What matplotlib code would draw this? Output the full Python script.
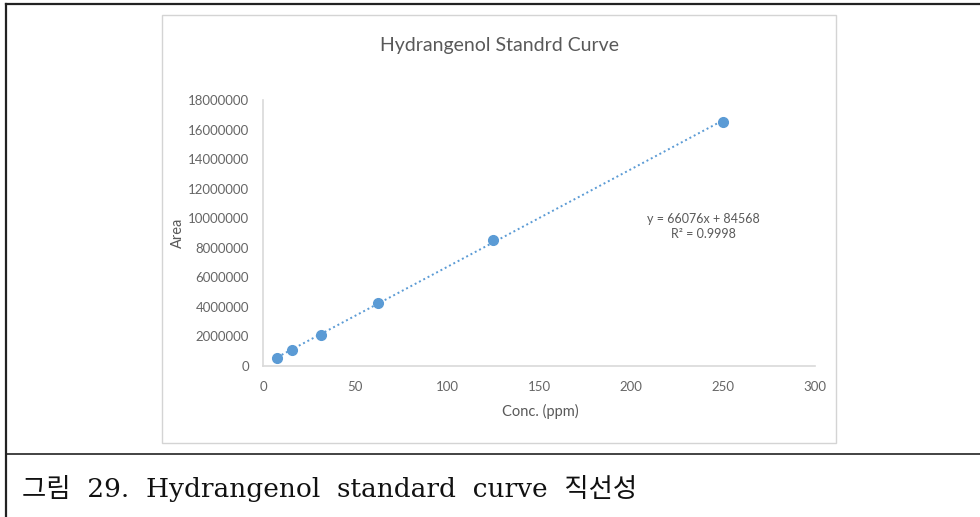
import numpy as np
import matplotlib
matplotlib.use("Agg")
import matplotlib.pyplot as plt
from matplotlib.lines import Line2D
from matplotlib.patches import Rectangle

conc = [7.8125, 15.625, 31.25, 62.5, 125, 250]
area = [560000, 1080000, 2110000, 4250000, 8520000, 16540000]
x_ticks = [0, 50, 100, 150, 200, 250, 300]
y_ticks = [0, 2000000, 4000000, 6000000, 8000000, 10000000, 12000000, 14000000, 16000000, 18000000]

title = "Hydrangenol Standrd Curve"
equation = "y = 66076x + 84568\nR² = 0.9998"
caption = "그림 29. Hydrangenol standard curve 직선성"

W, H = 980, 517
blue = "#5B9BD5"
gray_txt = "#595959"
axis_col = "#d9d9d9"

fig = plt.figure(figsize=(W / 100, H / 100), dpi=100)

def px(x, y):
    # Pixel -> Figure-Koordinaten
    return x / W, 1 - y / H

# Tabellenrahmen
fig.add_artist(Line2D([px(6, 0)[0], 1], [px(0, 4)[1]] * 2, color="#222222", lw=1.6))
fig.add_artist(Line2D([px(6, 0)[0]] * 2, [px(0, 4)[1], 0], color="#222222", lw=1.6))
fig.add_artist(Line2D([px(6, 0)[0], 1], [px(0, 454)[1]] * 2, color="#222222", lw=1.2))

# Rahmen des Diagrammbildes
x0, y0 = px(162, 443)
fig.add_artist(Rectangle((x0, y0), (836 - 162) / W, (443 - 15) / H, fill=False,
                         ec="#d4d4d4", lw=1.0, transform=fig.transFigure))

ax = fig.add_axes([263 / W, 1 - 366 / H, (815 - 263) / W, (366 - 100) / H])
ax.set_xlim(0, 300)
ax.set_ylim(0, 18000000)

# lineare Regression
coef = np.polyfit(conc, area, 1)
fit = np.poly1d(coef)
xs = np.array([conc[0], conc[-1]])
ax.plot(xs, fit(xs), linestyle=(0, (1, 1.5)), color=blue, lw=1.4, zorder=2)
ax.plot(conc, area, "o", color=blue, ms=7, zorder=3)

ax.set_xticks(x_ticks)
ax.set_yticks(y_ticks)
ax.set_xticklabels([str(v) for v in x_ticks])
ax.set_yticklabels([str(v) for v in y_ticks])
ax.tick_params(length=0, labelsize=9.5, labelcolor="#666666", labelfontfamily="Lato")
ax.tick_params(axis="x", pad=11)
ax.tick_params(axis="y", pad=10)
for s in ["top", "right"]:
    ax.spines[s].set_visible(False)
for s in ["left", "bottom"]:
    ax.spines[s].set_color(axis_col)
    ax.spines[s].set_linewidth(1.2)

fig.text(*px(499, 45), title, ha="center", va="center", fontsize=14,
         color=gray_txt, family="Lato")
fig.text(*px(540, 411), "Conc. (ppm)", ha="center", va="center", fontsize=10.5,
         color=gray_txt, family="Lato")
fig.text(*px(178, 233), "Area", ha="center", va="center", rotation=90, fontsize=10.5,
         color=gray_txt, family="Lato")
fig.text(*px(703, 227), equation, ha="center", va="center", fontsize=9,
         color=gray_txt, family="Lato", linespacing=1.3)

# Bildunterschrift (Blocksatz -> breite Wortabstaende)
fig.text(*px(22, 488), caption.replace(" ", "  "), ha="left", va="center", fontsize=19,
         color="#111111", family=["DejaVu Serif", "Noto Sans CJK KR"])

fig.savefig("out.png", dpi=100)
